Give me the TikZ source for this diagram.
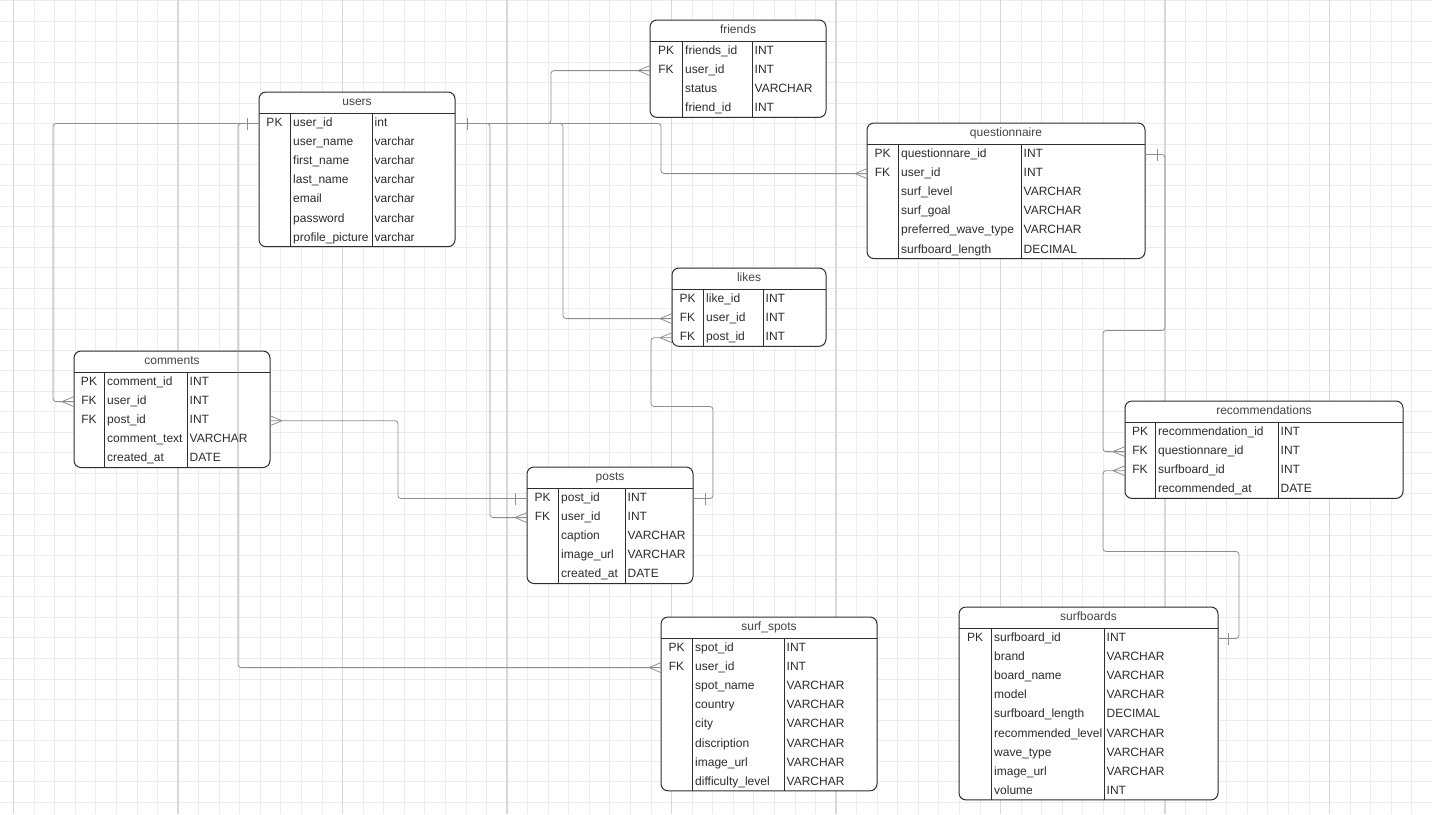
\documentclass[tikz,border=0pt]{standalone}
\usepackage{fontspec}
\setmainfont{Liberation Sans}
\definecolor{gridc}{HTML}{ECECEC}
\definecolor{gridm}{HTML}{D8D8D8}
\definecolor{linec}{HTML}{8E8E8E}
\definecolor{boxc}{HTML}{2E2E2E}
\definecolor{txtc}{HTML}{2C2C2C}
\definecolor{hdrc}{HTML}{444444}
\tikzset{
  tabbox/.style={draw=boxc, line width=1pt, rounded corners=7pt, fill=white, inner sep=0pt, outer sep=0pt},
  tabline/.style={draw=boxc, line width=1pt},
  hdr/.style={font=\fontsize{12}{14}\selectfont, text=hdrc, inner sep=0pt, text height=8.6pt, text depth=2.5pt},
  cell/.style={font=\fontsize{12}{14}\selectfont, text=txtc, inner sep=0pt, text height=8.6pt, text depth=2.5pt},
  conn/.style={draw=linec, line width=0.8pt, rounded corners=3pt},
  erm/.style={draw=linec, line width=0.8pt},
  gridminor/.style={draw=gridc, line width=0.7pt},
  gridmajor/.style={draw=gridm, line width=1.3pt},
}
\newcommand\ertab[9]{%
  \node[tabbox, anchor=north west, minimum width={#4-#2}, minimum height={21+#7*19.1}] (#1) at (#2,#3) {};
  \node[hdr] (#1-title) at ({(#2+#4)/2},{#3+10.5}) {#8};
  \draw[tabline] (#2,{#3+21}) -- (#4,{#3+21});
  \draw[tabline] (#5,{#3+21}) -- (#5,{#3+21+#7*19.1});
  \draw[tabline] (#6,{#3+21}) -- (#6,{#3+21+#7*19.1});
  \foreach \ka/\na/\ty [count=\i] in {#9} {
    \node[cell] (#1-k\i) at ({(#2+#5)/2},{#3+31.5+(\i-1)*19.1}) {\ka};
    \node[cell, anchor=west] (#1-n\i) at ({#5+3},{#3+31.5+(\i-1)*19.1}) {\na};
    \node[cell, anchor=west] (#1-t\i) at ({#6+2.5},{#3+31.5+(\i-1)*19.1}) {\ty};
  }%
}
\newcommand\crowW[1]{\draw[erm] ([shift={(-12,0)}]#1) -- ([shift={(0,-5)}]#1) ([shift={(-12,0)}]#1) -- ([shift={(0,5)}]#1);}
\newcommand\crowE[1]{\draw[erm] ([shift={(12,0)}]#1) -- ([shift={(0,-5)}]#1) ([shift={(12,0)}]#1) -- ([shift={(0,5)}]#1);}
\newcommand\barW[1]{\draw[erm] ([shift={(-12,-6)}]#1) -- ([shift={(-12,6)}]#1);}
\newcommand\barE[1]{\draw[erm] ([shift={(12,-6)}]#1) -- ([shift={(12,6)}]#1);}
\begin{document}
\begin{tikzpicture}[x=1pt,y=-1pt]
\useasboundingbox (0,0) rectangle (1432,814);
\fill[white] (0,0) rectangle (1432,814);
% grid
\foreach \j in {0,...,39} \draw[gridminor] (0,{0.3+\j*20.5625}) -- (1432,{0.3+\j*20.5625});
\foreach \k in {0,...,68} \draw[gridminor] ({13.5+\k*20.5625},0) -- ({13.5+\k*20.5625},814);
\foreach \k in {0,...,8} \draw[gridmajor] ({13.5+\k*164.5},0) -- ({13.5+\k*164.5},814);

% tables
\ertab{users}{259}{92}{455}{290}{372}{7}{users}{PK/user\_id/int, {}/user\_name/varchar, {}/first\_name/varchar, {}/last\_name/varchar, {}/email/varchar, {}/password/varchar, {}/profile\_picture/varchar}
\ertab{friends}{650}{20}{826}{682}{752}{4}{friends}{PK/friends\_id/INT, FK/user\_id/INT, {}/status/VARCHAR, {}/friend\_id/INT}
\ertab{quest}{867}{123}{1145}{898}{1021}{6}{questionnaire}{PK/questionnare\_id/INT, FK/user\_id/INT, {}/surf\_level/VARCHAR, {}/surf\_goal/VARCHAR, {}/preferred\_wave\_type/VARCHAR, {}/surfboard\_length/DECIMAL}
\ertab{likes}{672}{268}{826}{703}{763}{3}{likes}{PK/like\_id/INT, FK/user\_id/INT, FK/post\_id/INT}
\ertab{comments}{74}{351}{270}{104}{187}{5}{comments}{PK/comment\_id/INT, FK/user\_id/INT, FK/post\_id/INT, {}/comment\_text/VARCHAR, {}/created\_at/DATE}
\ertab{posts}{527}{467}{693}{558}{625}{5}{posts}{PK/post\_id/INT, FK/user\_id/INT, {}/caption/VARCHAR, {}/image\_url/VARCHAR, {}/created\_at/DATE}
\ertab{rec}{1125}{401}{1403}{1155}{1278}{4}{recommendations}{PK/recommendation\_id/INT, FK/questionnare\_id/INT, FK/surfboard\_id/INT, {}/recommended\_at/DATE}
\ertab{spots}{661}{617}{877}{692}{784}{8}{surf\_spots}{PK/spot\_id/INT, FK/user\_id/INT, {}/spot\_name/VARCHAR, {}/country/VARCHAR, {}/city/VARCHAR, {}/discription/VARCHAR, {}/image\_url/VARCHAR, {}/difficulty\_level/VARCHAR}
\ertab{boards}{959}{607}{1218}{991}{1104}{9}{surfboards}{PK/surfboard\_id/INT, {}/brand/VARCHAR, {}/board\_name/VARCHAR, {}/model/VARCHAR, {}/surfboard\_length/DECIMAL, {}/recommended\_level/VARCHAR, {}/wave\_type/VARCHAR, {}/image\_url/VARCHAR, {}/volume/INT}

% connection points
\coordinate (uL) at (users.west |- users-k1);
\coordinate (uR) at (users.east |- users-k1);
\coordinate (cU) at (comments.west |- comments-k2);
\coordinate (cP) at (comments.east |- comments-k3);
\coordinate (sU) at (spots.west |- spots-k2);
\coordinate (fU) at (friends.west |- friends-k2);
\coordinate (qU) at (quest.west |- quest-k2);
\coordinate (qR) at (quest.east |- quest-k1);
\coordinate (lU) at (likes.west |- likes-k2);
\coordinate (lP) at (likes.west |- likes-k3);
\coordinate (pL) at (posts.west |- posts-k1);
\coordinate (pU) at (posts.west |- posts-k2);
\coordinate (pR) at (posts.east |- posts-k1);
\coordinate (rQ) at (rec.west |- rec-k2);
\coordinate (rS) at (rec.west |- rec-k3);
\coordinate (bR) at (boards.east |- boards-k1);

% connectors
\draw[conn] (uL) -- ++(-206,0) |- (cU);
\draw[conn] (uL) -- ++(-21,0) |- (sU);
\draw[conn] (uR) -- ++(96,0) |- (fU);
\draw[conn] (uR) -- ++(206,0) |- (qU);
\draw[conn] (uR) -- ++(108,0) |- (lU);
\draw[conn] (uR) -- ++(35,0) |- (pU);
\draw[conn] (cP) -- ++(128,0) |- (pL);
\draw[conn] (pR) -- ++(20,0) -- ++(0,-92) -- ++(-62,0) |- (lP);
\draw[conn] (qR) -- ++(20,0) -- ++(0,176) -- ++(-62,0) |- (rQ);
\draw[conn] (bR) -- ++(21,0) -- ++(0,-87) -- ++(-136,0) |- (rS);

% markers
\barW{uL} \barE{uR}
\crowW{cU} \crowE{cP} \crowW{sU} \crowW{fU} \crowW{qU} \barE{qR}
\crowW{lU} \crowW{lP} \barW{pL} \crowW{pU} \barE{pR}
\crowW{rQ} \crowW{rS}
\draw[erm] ([shift={(10,-6)}]bR) -- ([shift={(10,6)}]bR);
\end{tikzpicture}
\end{document}
